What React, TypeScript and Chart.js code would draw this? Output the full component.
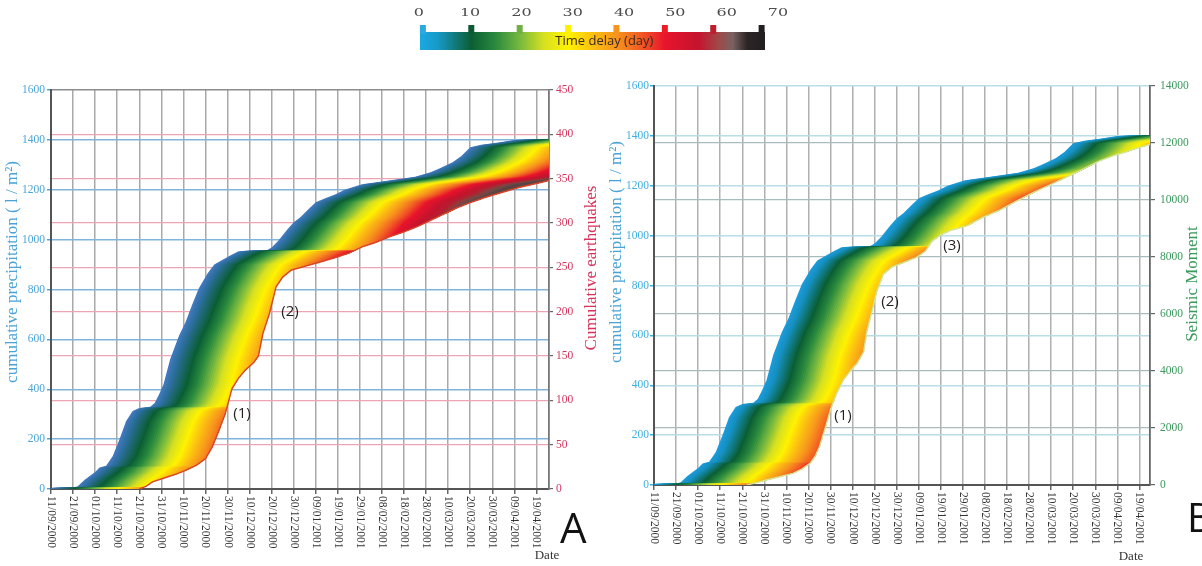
import React, { useEffect, useRef } from "react";
import { Chart, registerables } from "chart.js";
Chart.register(...registerables);

// ---------------- data ----------------
// days counted from 11/09/2000
const tickDays = [0, 10, 20, 30, 40, 50, 60, 70, 80, 90, 100, 110, 120, 130, 140, 150, 160, 170, 180, 190, 200, 210, 220];
const tickLabels = [
  "11/09/2000", "21/09/2000", "01/10/2000", "11/10/2000", "21/10/2000", "31/10/2000", "10/11/2000", "20/11/2000",
  "30/11/2000", "10/12/2000", "20/12/2000", "30/12/2000", "09/01/2001", "19/01/2001", "29/01/2001", "08/02/2001",
  "18/02/2001", "28/02/2001", "10/03/2001", "20/03/2001", "30/03/2001", "09/04/2001", "19/04/2001",
];

// cumulative precipitation (l / m²)
const precipDays = [0, 10, 12, 15, 18, 20, 22, 25, 28, 31, 34, 37, 40, 45, 47, 49, 51, 54, 58, 61, 64, 67, 71, 74, 77, 81, 85, 90, 98, 100, 103, 107, 110, 113, 117, 120, 124, 129, 133, 141, 150, 158, 165, 172, 176, 182, 186, 190, 195, 202, 210, 218, 226];
const precipValues = [5, 7, 10, 35, 55, 68, 86, 93, 132, 198, 272, 313, 325, 330, 345, 380, 420, 520, 615, 670, 740, 805, 865, 900, 915, 935, 953, 956, 958, 968, 995, 1040, 1070, 1090, 1125, 1150, 1165, 1182, 1200, 1222, 1233, 1243, 1252, 1270, 1285, 1310, 1335, 1370, 1380, 1388, 1400, 1403, 1404];

// cumulative earthquakes (panel A)
const quakeDays = [40, 43, 46, 52, 57, 61, 66, 70, 73, 76, 79, 82, 85, 88, 92, 94, 96, 99, 102, 105, 109, 115, 122, 129, 135, 141, 147, 153, 160, 166, 172, 178, 184, 190, 197, 205, 212, 219, 226];
const quakeCounts = [0, 3, 8, 13, 17, 21, 27, 34, 47, 65, 85, 113, 125, 134, 143, 150, 175, 198, 228, 239, 247, 251, 256, 261, 266, 273, 278, 284, 290, 296, 303, 310, 317, 323, 329, 335, 340, 344, 348];

// seismic moment (panel B)
const momentDays = [42, 47, 51, 57, 63, 67, 71, 73, 75, 78, 80, 83, 86, 89, 92, 95, 96.5, 99, 101, 104, 108, 113, 119, 123, 126, 130, 134, 142, 149, 157, 164, 172, 180, 187, 195, 202, 208, 213, 219, 226];
const momentValues = [0, 90, 175, 290, 410, 560, 780, 1000, 1340, 2100, 2650, 3250, 3700, 4000, 4260, 4660, 5400, 6150, 6800, 7400, 7650, 7800, 7990, 8200, 8550, 8780, 8920, 9100, 9390, 9650, 9950, 10265, 10550, 10800, 11100, 11375, 11550, 11665, 11820, 11970];

// time delay colour scale
const maxDelay = 70;
const colorDelays = [0, 3, 10, 15, 20, 25, 30, 35, 40, 45, 50, 57, 61, 64, 67, 70];
const colorMid = ["#0b5e33", "#2a8a3e", "#76b83f", "#d7e021", "#fff200", "#fcc012", "#f7941d", "#f15a24", "#e8142c", "#c4142e"];
const legendTail = ["#a04848", "#7a6262", "#2c2526", "#231f20"];
const panelTail = ["#b51e30", "#96383a", "#6f4a47", "#5b4341"];
const colorsA = ["#3f78bb", "#2c6e9c", ...colorMid, ...panelTail];
const colorsB = ["#1b9ad9", "#168fbe", ...colorMid, ...panelTail];
const colorsLegend = ["#1ba6df", "#169ac8", ...colorMid, ...legendTail];
const legendTicks = [0, 10, 20, 30, 40, 50, 60, 70];
const legendTickColors = ["#29abe2", "#0b5a32", "#6fb043", "#fff200", "#f7941d", "#ed1c24", "#be1e2d", "#231f20"];

// ---------------- helpers ----------------
function hexToRgb(h: string) {
  const n = parseInt(h.slice(1), 16);
  return [(n >> 16) & 255, (n >> 8) & 255, n & 255];
}
function colorAt(colors: string[], k: number) {
  if (k <= colorDelays[0]) return colors[0];
  for (let i = 1; i < colorDelays.length; i++) {
    if (k <= colorDelays[i]) {
      const t = (k - colorDelays[i - 1]) / (colorDelays[i] - colorDelays[i - 1]);
      const a = hexToRgb(colors[i - 1]);
      const b = hexToRgb(colors[i]);
      const c = a.map((v, j) => Math.round(v + (b[j] - v) * t));
      return `rgb(${c[0]},${c[1]},${c[2]})`;
    }
  }
  return colors[colors.length - 1];
}

// bands: precipitation curve shifted by k days, filled, larger delays drawn on top
function buildBands(colors: string[]) {
  const ds: any[] = [];
  for (let k = maxDelay; k >= 0; k--) {
    ds.push({
      type: "line",
      label: "delay " + k,
      data: precipDays.map((d, i) => ({ x: d + k, y: precipValues[i] })),
      yAxisID: "y",
      backgroundColor: colorAt(colors, k),
      borderWidth: 0,
      pointRadius: 0,
      fill: "start",
      tension: 0,
    });
  }
  return ds;
}

function clipAbove(days: number[], vals: number[], axisId: string) {
  return {
    id: "clipAbove",
    beforeDatasetsDraw(chart: any) {
      const { ctx, chartArea } = chart;
      const xs = chart.scales.x;
      const ys = chart.scales[axisId];
      ctx.save();
      ctx.beginPath();
      ctx.moveTo(chartArea.left - 3, chartArea.top - 3);
      ctx.lineTo(chartArea.left - 3, ys.getPixelForValue(vals[0]));
      days.forEach((d, i) => ctx.lineTo(xs.getPixelForValue(d), ys.getPixelForValue(vals[i])));
      ctx.lineTo(chartArea.right + 3, ys.getPixelForValue(vals[vals.length - 1]));
      ctx.lineTo(chartArea.right + 3, chartArea.top - 3);
      ctx.closePath();
      ctx.clip();
    },
    beforeDatasetDraw(chart: any, args: any) {
      if (args.index === 0) chart.ctx.restore();
    },
  };
}

type TextItem = { text: string; x: number; y: number; font: string; color: string; rotate?: number; align?: CanvasTextAlign; baseline?: CanvasTextBaseline };
function textPlugin(items: TextItem[]) {
  return {
    id: "texts",
    afterDraw(chart: any) {
      const ctx = chart.ctx;
      items.forEach((it) => {
        ctx.save();
        ctx.translate(it.x, it.y);
        if (it.rotate) ctx.rotate(it.rotate);
        ctx.font = it.font;
        ctx.fillStyle = it.color;
        ctx.textAlign = it.align || "center";
        ctx.textBaseline = it.baseline || "middle";
        ctx.fillText(it.text, 0, 0);
        ctx.restore();
      });
    },
  };
}

const xLabelPlugin = {
  id: "xlabels",
  afterDraw(chart: any) {
    const ctx = chart.ctx;
    const xs = chart.scales.x;
    ctx.save();
    ctx.font = '11.5px "Liberation Serif"';
    ctx.fillStyle = "#333";
    ctx.textAlign = "left";
    ctx.textBaseline = "middle";
    tickDays.forEach((d, i) => {
      ctx.save();
      ctx.translate(xs.getPixelForValue(d), chart.chartArea.bottom + 7);
      ctx.rotate(Math.PI / 2);
      ctx.fillText(tickLabels[i], 0, 0);
      ctx.restore();
    });
    ctx.restore();
  },
};

const serif = "'Liberation Serif', serif";
const plainNumber = (v: any) => String(v);

function panelConfig(opts: {
  colors: string[];
  curveDays: number[];
  curveVals: number[];
  curveLabel: string;
  curveColor: string;
  rMax: number;
  rStep: number;
  rColor: string;
  rGrid: string;
  lColor: string;
  lGrid: (v: number) => string;
  xMax: number;
  leftW: number;
  top: number;
  bottomH: number;
  lPad: number;
  rPad: number;
  rTick: number;
  vGrid: string;
  rBorder: string;
  texts: TextItem[];
}) {
  return {
    type: "line",
    data: {
      datasets: [
        {
          type: "line",
          label: opts.curveLabel,
          data: opts.curveDays.map((d, i) => ({ x: d, y: opts.curveVals[i] })),
          yAxisID: "yR",
          borderColor: opts.curveColor,
          borderWidth: 1.4,
          pointRadius: 0,
          fill: false,
          tension: 0,
        },
        ...buildBands(opts.colors),
      ],
    },
    options: {
      responsive: false,
      animation: false,
      events: [],
      layout: { padding: { top: opts.top, left: 0, right: 0, bottom: 0 } },
      plugins: { legend: { display: false }, tooltip: { enabled: false } },
      scales: {
        x: {
          type: "linear",
          min: 0,
          max: opts.xMax,
          afterBuildTicks: (s: any) => {
            s.ticks = tickDays.map((v) => ({ value: v }));
          },
          afterFit: (s: any) => {
            s.height = opts.bottomH;
          },
          ticks: { display: false },
          grid: { color: opts.vGrid, lineWidth: 1.5, tickLength: 5, tickColor: "#666" },
          border: { color: "#555", width: 2 },
        },
        y: {
          position: "left",
          min: 0,
          max: 1600,
          afterFit: (s: any) => {
            s.width = opts.leftW;
          },
          ticks: { stepSize: 200, color: opts.lColor, font: { family: serif, size: 11.5 }, padding: opts.lPad, callback: plainNumber },
          grid: { color: (c: any) => opts.lGrid(c.tick.value), lineWidth: 1.5, tickLength: 4, tickColor: opts.lColor },
          border: { color: "#555", width: 2 },
        },
        yR: {
          position: "right",
          min: 0,
          max: opts.rMax,
          afterFit: (s: any) => {
            s.width = 52;
          },
          ticks: { stepSize: opts.rStep, color: opts.rColor, font: { family: serif, size: 11.5 }, padding: opts.rPad, callback: plainNumber },
          grid: {
            color: (c: any) => (c.tick.value === 0 || c.tick.value === opts.rMax ? "rgba(0,0,0,0)" : opts.rGrid),
            lineWidth: 1.2,
            tickLength: opts.rTick,
            tickColor: "#666",
          },
          border: { color: opts.rBorder, width: 1.8 },
        },
      },
    },
    plugins: [clipAbove(opts.curveDays, opts.curveVals, "yR"), xLabelPlugin, textPlugin(opts.texts)],
  };
}

const annFont = '15px "Open Sans"';
const textsA: TextItem[] = [
  { text: "cumulative precipitation ( l / m²)", x: 13, y: 272, font: `17px ${serif}`, color: "#4aa3d6", rotate: -Math.PI / 2 },
  { text: "Cumulative earthquakes", x: 592, y: 268, font: `17px ${serif}`, color: "#d6325a", rotate: -Math.PI / 2 },
  { text: "Date", x: 547, y: 556, font: `13px ${serif}`, color: "#333" },
  { text: "A", x: 560, y: 543, font: '42px "Open Sans"', color: "#111", align: "left", baseline: "alphabetic" },
  { text: "(1)", x: 242, y: 414, font: annFont, color: "#231f20" },
  { text: "(2)", x: 290, y: 312, font: annFont, color: "#231f20" },
];
const textsB: TextItem[] = [
  { text: "cumulative precipitation ( l / m²)", x: 16, y: 252, font: `17px ${serif}`, color: "#4aa3d6", rotate: -Math.PI / 2 },
  { text: "Seismic Moment", x: 592, y: 284, font: `17px ${serif}`, color: "#3a9a5c", rotate: -Math.PI / 2 },
  { text: "Date", x: 530, y: 557, font: `13px ${serif}`, color: "#333" },
  { text: "B", x: 586, y: 532, font: '40px "Open Sans"', color: "#111", align: "left", baseline: "alphabetic" },
  { text: "(1)", x: 242, y: 416, font: annFont, color: "#231f20" },
  { text: "(2)", x: 289, y: 302, font: annFont, color: "#231f20" },
  { text: "(3)", x: 351, y: 246, font: annFont, color: "#231f20" },
];

const legendDecor = {
  id: "legendDecor",
  afterDraw(chart: any) {
    const ctx = chart.ctx;
    const xs = chart.scales.x;
    ctx.save();
    legendTicks.forEach((v, i) => {
      const px = xs.getPixelForValue(v);
      ctx.fillStyle = legendTickColors[i];
      ctx.fillRect(px - 3, 25, 6, 9);
      ctx.save();
      ctx.translate(xs.getPixelForValue(v * 1.0605 - 0.85), 13);
      ctx.scale(1.45, 1);
      ctx.font = '11px "DejaVu Serif"';
      ctx.fillStyle = "#4d4d4d";
      ctx.textAlign = "center";
      ctx.textBaseline = "middle";
      ctx.fillText(String(v), 0, 0);
      ctx.restore();
    });
    ctx.font = '13px "Open Sans"';
    ctx.fillStyle = "#3b2a20";
    ctx.textAlign = "center";
    ctx.textBaseline = "middle";
    ctx.fillText(chart.data.labels[0], xs.getPixelForValue(37.5), 41);
    ctx.restore();
  },
};

export default function App() {
  const aRef = useRef<HTMLCanvasElement>(null);
  const bRef = useRef<HTMLCanvasElement>(null);
  const lRef = useRef<HTMLCanvasElement>(null);

  useEffect(() => {
    const chartA = new Chart(
      aRef.current as HTMLCanvasElement,
      panelConfig({
        colors: colorsA,
        curveDays: quakeDays,
        curveVals: quakeCounts,
        curveLabel: "Cumulative earthquakes",
        curveColor: "#d8452a",
        rMax: 450,
        rStep: 50,
        rColor: "#d6365e",
        rGrid: "#eba5b5",
        lColor: "#4aa6da",
        lGrid: (v) => (v === 1600 ? "#8c8c8c" : "#80b4dc"),
        xMax: 225.7,
        leftW: 51,
        top: 90,
        bottomH: 77,
        lPad: 2,
        rPad: 3,
        rTick: 4,
        vGrid: "#a9a9a9",
        rBorder: "#777",
        texts: textsA,
      }) as any
    );
    const chartB = new Chart(
      bRef.current as HTMLCanvasElement,
      panelConfig({
        colors: colorsB,
        curveDays: momentDays,
        curveVals: momentValues,
        curveLabel: "Seismic Moment",
        curveColor: "#d3e59c",
        rMax: 14000,
        rStep: 2000,
        rColor: "#3a9a5c",
        rGrid: "#a9bbbb",
        lColor: "#3fb0e0",
        lGrid: () => "#b9dde6",
        xMax: 224.8,
        leftW: 53,
        top: 86,
        bottomH: 81,
        lPad: 1,
        rPad: 5,
        rTick: 5,
        vGrid: "#b0b0b0",
        rBorder: "#666",
        texts: textsB,
      }) as any
    );
    const chartL = new Chart(lRef.current as HTMLCanvasElement, {
      type: "bar",
      data: {
        labels: ["Time delay (day)"],
        datasets: [
          {
            label: "Time delay (day)",
            data: [[-0.6, 70.7]] as any,
            backgroundColor: (c: any) => {
              const ch = c.chart;
              const xs = ch.scales.x;
              if (!ch.chartArea || !xs) return "#ccc";
              const g = ch.ctx.createLinearGradient(xs.getPixelForValue(0), 0, xs.getPixelForValue(maxDelay), 0);
              colorDelays.forEach((d, i) => g.addColorStop(d / maxDelay, colorsLegend[i]));
              return g;
            },
            borderWidth: 0,
            barPercentage: 1,
            categoryPercentage: 1,
          },
        ],
      },
      options: {
        indexAxis: "y",
        responsive: false,
        animation: false,
        events: [],
        layout: { padding: { left: 20, right: 35, top: 32, bottom: 10 } },
        plugins: { legend: { display: false }, tooltip: { enabled: false } },
        scales: {
          x: { type: "linear", min: -0.6, max: 70.7, display: false },
          y: { type: "category", display: false },
        },
      },
      plugins: [legendDecor],
    } as any);
    return () => {
      chartA.destroy();
      chartB.destroy();
      chartL.destroy();
    };
  }, []);

  return (
    <div style={{ position: "absolute", left: 0, top: 0, width: 1202, height: 566, background: "#fff", overflow: "hidden" }}>
      <canvas ref={aRef} width={601} height={566} style={{ position: "absolute", left: 0, top: 0 }} />
      <canvas ref={bRef} width={601} height={566} style={{ position: "absolute", left: 601, top: 0 }} />
      <canvas ref={lRef} width={400} height={60} style={{ position: "absolute", left: 400, top: 0 }} />
    </div>
  );
}
